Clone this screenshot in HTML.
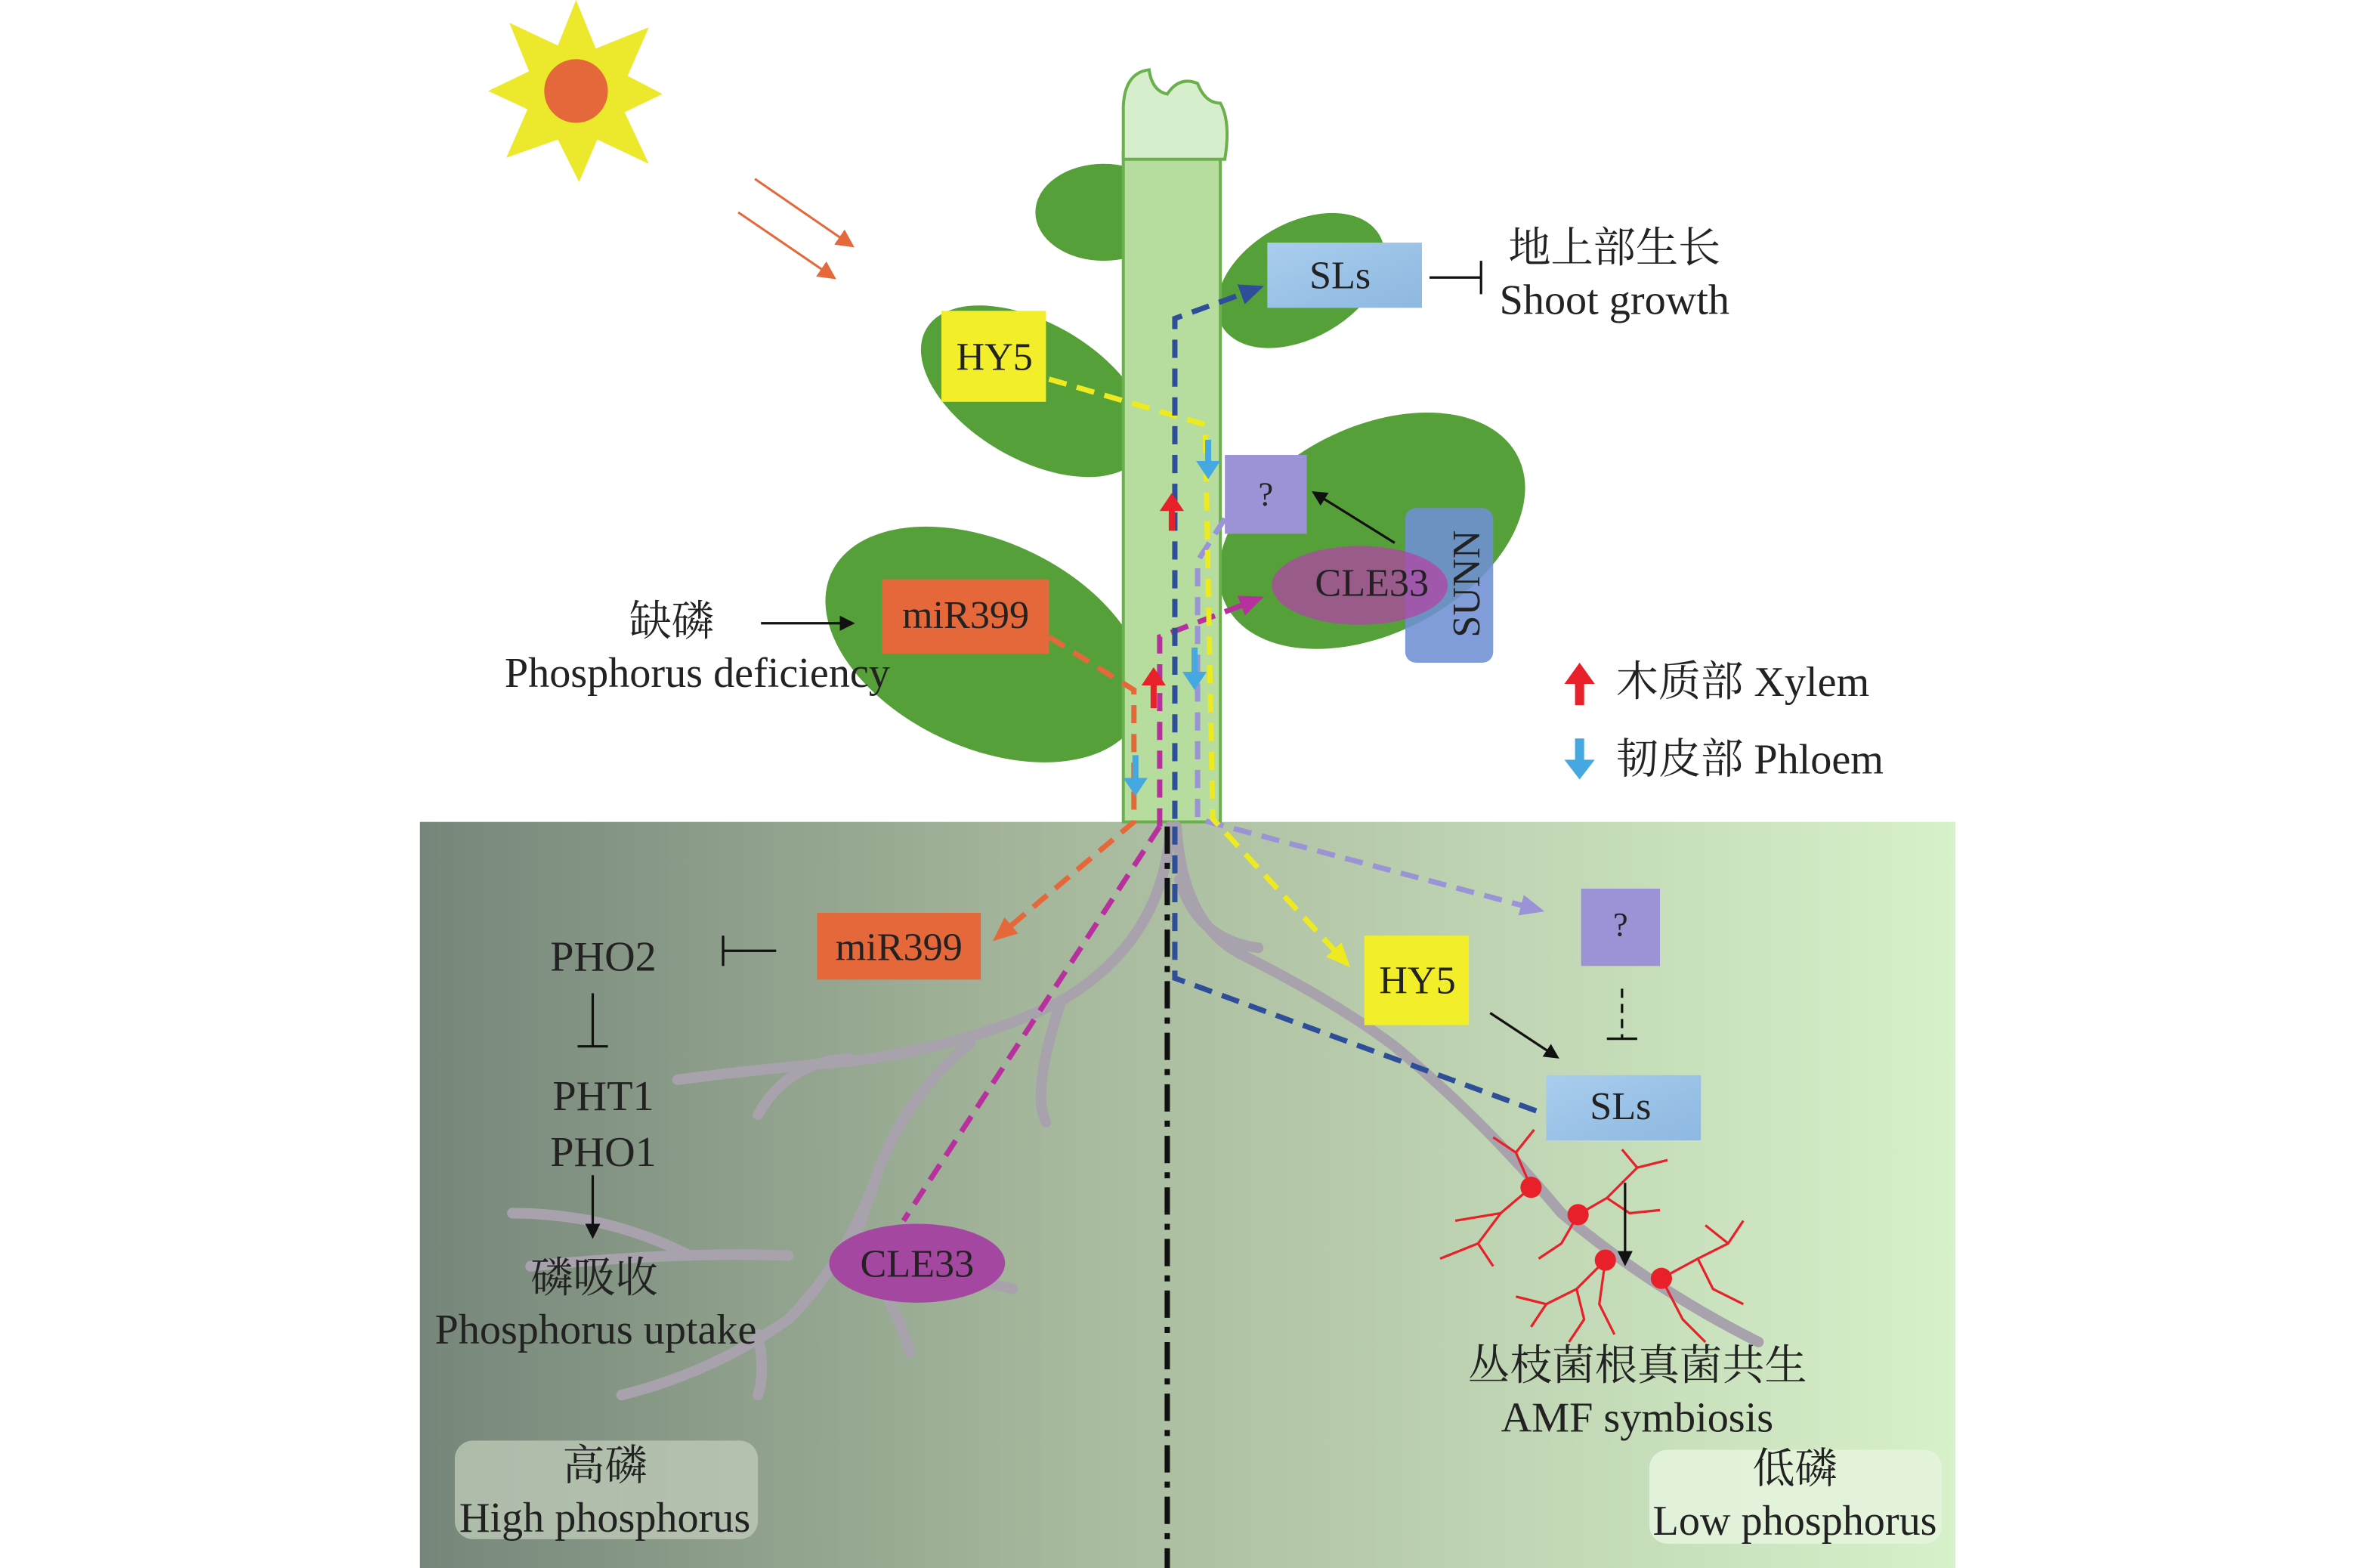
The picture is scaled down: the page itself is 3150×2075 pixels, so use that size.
<!DOCTYPE html>
<html><head><meta charset="utf-8">
<style>
html,body{margin:0;padding:0;background:#fff;}
svg{display:block;}
text{font-family:"Liberation Serif","Noto Serif CJK SC","Noto Sans CJK SC",serif;fill:#222;}
</style></head><body>
<svg width="3150" height="2075" viewBox="0 0 1570 1034" preserveAspectRatio="none" xmlns="http://www.w3.org/2000/svg">
<defs>
<linearGradient id="soil" x1="0" x2="1" y1="0" y2="0">
<stop offset="0" stop-color="#76867a"/><stop offset="0.45" stop-color="#aabc9f"/><stop offset="1" stop-color="#d7f1ca"/>
</linearGradient>
<linearGradient id="sls" x1="0" x2="1" y1="0" y2="1">
<stop offset="0" stop-color="#a9cdee"/><stop offset="1" stop-color="#8db8e0"/>
</linearGradient>
<marker id="ab" markerWidth="16" markerHeight="14" refX="12" refY="7" orient="auto" markerUnits="userSpaceOnUse"><path d="M0,0 L16,7 L0,14 z" fill="#2e4e9a"/></marker>
<marker id="ay" markerWidth="16" markerHeight="14" refX="12" refY="7" orient="auto" markerUnits="userSpaceOnUse"><path d="M0,0 L16,7 L0,14 z" fill="#eeea20"/></marker>
<marker id="al" markerWidth="16" markerHeight="14" refX="12" refY="7" orient="auto" markerUnits="userSpaceOnUse"><path d="M0,0 L16,7 L0,14 z" fill="#9a93d6"/></marker>
<marker id="am" markerWidth="16" markerHeight="14" refX="12" refY="7" orient="auto" markerUnits="userSpaceOnUse"><path d="M0,0 L16,7 L0,14 z" fill="#b7309e"/></marker>
<marker id="ao" markerWidth="16" markerHeight="14" refX="12" refY="7" orient="auto" markerUnits="userSpaceOnUse"><path d="M0,0 L16,7 L0,14 z" fill="#e5683a"/></marker>
<marker id="ak" markerWidth="10" markerHeight="10" refX="8" refY="5" orient="auto" markerUnits="userSpaceOnUse"><path d="M0,0 L10,5 L0,10 z" fill="#111"/></marker>
<marker id="ar" markerWidth="12" markerHeight="12" refX="10" refY="6" orient="auto" markerUnits="userSpaceOnUse"><path d="M0,0 L12,6 L0,12 z" fill="#e5683a"/></marker>
</defs>

<rect x="277" y="542" width="1013" height="492" fill="url(#soil)"/>

<polygon points="380,0 393,32 428,18 414,50 437,62 412,74 428,108 394,92 382,120 368,92 334,104 348,72 322,60 349,47 336,15 368,30" fill="#ece82b"/>
<circle cx="380" cy="60" r="21" fill="#e5683a"/>
<line x1="498" y1="118" x2="562" y2="162" stroke="#e5683a" stroke-width="1.5" marker-end="url(#ar)"/>
<line x1="487" y1="140" x2="550" y2="183" stroke="#e5683a" stroke-width="1.5" marker-end="url(#ar)"/>

<ellipse cx="728" cy="140" rx="45" ry="32" fill="#56a03a"/>
<ellipse cx="858" cy="185" rx="60" ry="38" transform="rotate(-30 858 185)" fill="#56a03a"/>
<ellipse cx="682" cy="258" rx="82" ry="45" transform="rotate(30 682 258)" fill="#56a03a"/>
<ellipse cx="905" cy="350" rx="108" ry="68" transform="rotate(-27 905 350)" fill="#56a03a"/>
<ellipse cx="650" cy="425" rx="112" ry="68" transform="rotate(25 650 425)" fill="#56a03a"/>

<rect x="741" y="100" width="64" height="442" fill="#b6dc9e" stroke="#6ab04c" stroke-width="2"/>
<path d="M741,105 L741,70 Q742,48 758,46 Q760,60 770,62 Q778,50 790,55 Q795,68 805,68 Q812,80 808,105 Z" fill="#d6eecb" stroke="#6ab04c" stroke-width="2"/>

<g stroke="#a7a2ac" stroke-width="7" fill="none" stroke-linecap="round">
<path d="M772,545 Q768,620 700,660 Q640,690 560,700 Q500,705 447,712"/>
<path d="M640,688 Q600,720 580,770 Q560,830 520,870 Q470,905 410,920"/>
<path d="M560,698 Q520,700 500,735"/>
<path d="M580,770 Q570,800 560,830"/>
<path d="M520,828 Q450,825 350,835"/>
<path d="M455,828 Q400,800 338,800"/>
<path d="M610,840 Q650,845 668,850"/>
<path d="M585,855 Q598,880 600,892"/>
<path d="M500,880 Q505,905 500,920"/>
<path d="M700,660 Q680,720 690,740"/>
<path d="M776,545 Q780,610 820,630 Q880,660 920,690 Q980,740 1030,800 Q1090,850 1160,885"/>
<path d="M778,580 Q790,620 830,625"/>
</g>

<g stroke="#e8202a" stroke-width="1.6" fill="none">
<path d="M1010,783 L990,800 L975,820 M990,800 L960,805 M975,820 L985,835 M975,820 L950,830 M1010,783 L1000,760 L985,750 M1000,760 L1012,745"/>
<path d="M1041,801 L1060,790 L1080,770 L1070,758 M1080,770 L1100,765 M1060,790 L1075,800 L1095,798 M1041,801 L1030,820 L1015,830"/>
<path d="M1059,831 L1040,850 L1020,860 L1000,855 M1040,850 L1045,870 L1035,885 M1020,860 L1010,875 M1059,831 L1055,860 L1065,880"/>
<path d="M1096,843 L1120,830 L1140,820 L1150,805 M1120,830 L1130,850 L1150,860 M1096,843 L1110,870 L1125,885 M1140,820 L1125,808"/>
</g>
<g fill="#e8202a">
<circle cx="1010" cy="783" r="7"/><circle cx="1041" cy="801" r="7"/><circle cx="1059" cy="831" r="7"/><circle cx="1096" cy="843" r="7"/>
</g>

<line x1="770" y1="545" x2="770" y2="1034" stroke="#111" stroke-width="3.5" stroke-dasharray="18,6,4,6"/>

<g fill="none" stroke-width="3.5" stroke-dasharray="12,7">
<path d="M692,420 L748,455 L748,542 L658,618" stroke="#e5683a" marker-end="url(#ao)"/>
<path d="M765,545 L765,420 L830,395" stroke="#b7309e" marker-end="url(#am)"/>
<path d="M765,545 L596,805" stroke="#b7309e"/>
<path d="M808,342 L790,370 L790,540 L1015,600" stroke="#9a93d6" marker-end="url(#al)"/>
<path d="M692,250 L795,280 L800,540 L888,635" stroke="#eeea20" marker-end="url(#ay)"/>
<path d="M775,540 L775,210 L830,190" stroke="#2e4e9a" marker-end="url(#ab)"/>
<path d="M775,545 L775,645 L1020,735" stroke="#2e4e9a"/>
</g>

<g>
<path d="M795,290 v14 h-6 l8,12 l8,-12 h-6 v-14 z" fill="#45a8e0"/>
<path d="M786,427 v16 h-6 l8,12 l8,-12 h-6 v-16 z" fill="#45a8e0"/>
<path d="M747,498 v15 h-6 l8,12 l8,-12 h-6 v-15 z" fill="#45a8e0"/>
<path d="M771,350 v-13 h-6 l8,-12 l8,12 h-6 v13 z" fill="#e8202a"/>
<path d="M759,467 v-15 h-6 l8,-12 l8,12 h-6 v15 z" fill="#e8202a"/>
<path d="M1039,465 v-14 h-7 l10,-14 l10,14 h-7 v14 z" fill="#e8202a"/>
<path d="M1039,487 v14 h-7 l10,13 l10,-13 h-7 v-14 z" fill="#45a8e0"/>
</g>

<rect x="836" y="160" width="102" height="43" fill="url(#sls)"/>
<text x="884" y="190" font-size="26" text-anchor="middle">SLs</text>
<rect x="621" y="205" width="69" height="60" fill="#f2ef2a"/>
<text x="656" y="244" font-size="26" text-anchor="middle">HY5</text>
<rect x="808" y="300" width="54" height="52" fill="#9b93d6"/>
<text x="835" y="333" font-size="22" text-anchor="middle">?</text>
<rect x="927" y="335" width="58" height="102" rx="7" fill="#6f8fd4" opacity="0.88"/>
<ellipse cx="897" cy="386" rx="58" ry="26" fill="#b044a4" opacity="0.75"/>
<text x="905" y="393" font-size="26" text-anchor="middle">CLE33</text>
<text x="0" y="0" font-size="26" text-anchor="middle" transform="translate(976,385) rotate(-90)">SUNN</text>
<rect x="582" y="382" width="110" height="49" fill="#e5683a"/>
<text x="637" y="414" font-size="26" text-anchor="middle">miR399</text>
<rect x="539" y="602" width="108" height="44" fill="#e5683a"/>
<text x="593" y="633" font-size="26" text-anchor="middle">miR399</text>
<ellipse cx="605" cy="833" rx="58" ry="26" fill="#a447a0"/>
<text x="605" y="842" font-size="26" text-anchor="middle">CLE33</text>
<rect x="900" y="617" width="69" height="59" fill="#f2ef2a"/>
<text x="935" y="655" font-size="26" text-anchor="middle">HY5</text>
<rect x="1043" y="586" width="52" height="51" fill="#9b93d6"/>
<text x="1069" y="617" font-size="22" text-anchor="middle">?</text>
<rect x="1020" y="709" width="102" height="43" fill="url(#sls)"/>
<text x="1069" y="738" font-size="26" text-anchor="middle">SLs</text>

<g stroke="#111" stroke-width="1.6" fill="none">
<line x1="943" y1="183" x2="977" y2="183"/><line x1="977" y1="172" x2="977" y2="194"/>
<line x1="502" y1="411" x2="562" y2="411" marker-end="url(#ak)"/>
<line x1="920" y1="358" x2="867" y2="325" marker-end="url(#ak)"/>
<line x1="512" y1="627" x2="477" y2="627"/><line x1="477" y1="617" x2="477" y2="637"/>
<line x1="391" y1="655" x2="391" y2="690"/><line x1="381" y1="690" x2="401" y2="690"/>
<line x1="391" y1="775" x2="391" y2="815" marker-end="url(#ak)"/>
<line x1="983" y1="668" x2="1027" y2="697" marker-end="url(#ak)"/>
<line x1="1070" y1="652" x2="1070" y2="685" stroke-dasharray="6,4"/><line x1="1060" y1="685" x2="1080" y2="685"/>
<line x1="1072" y1="780" x2="1072" y2="833" marker-end="url(#ak)"/>
</g>

<g font-size="28" text-anchor="middle">
<text x="1065" y="173">地上部生长</text>
<text x="1065" y="207">Shoot growth</text>
<text x="443" y="419">缺磷</text>
<text x="460" y="453">Phosphorus deficiency</text>
<text x="1066" y="459" text-anchor="start">木质部 Xylem</text>
<text x="1066" y="510" text-anchor="start">韧皮部 Phloem</text>
<text x="398" y="640">PHO2</text>
<text x="398" y="732">PHT1</text>
<text x="398" y="769">PHO1</text>
<text x="392" y="852">磷吸收</text>
<text x="393" y="886">Phosphorus uptake</text>
<text x="1080" y="910">丛枝菌根真菌共生</text>
<text x="1080" y="944">AMF symbiosis</text>
</g>
<rect x="300" y="950" width="200" height="65" rx="12" fill="#c0ccba" opacity="0.75"/>
<rect x="1088" y="956" width="193" height="62" rx="12" fill="#e6f5de" opacity="0.85"/>
<g font-size="28" text-anchor="middle">
<text x="399" y="976">高磷</text>
<text x="399" y="1010">High phosphorus</text>
<text x="1184" y="978">低磷</text>
<text x="1184" y="1012">Low phosphorus</text>
</g>
</svg>
</body></html>
